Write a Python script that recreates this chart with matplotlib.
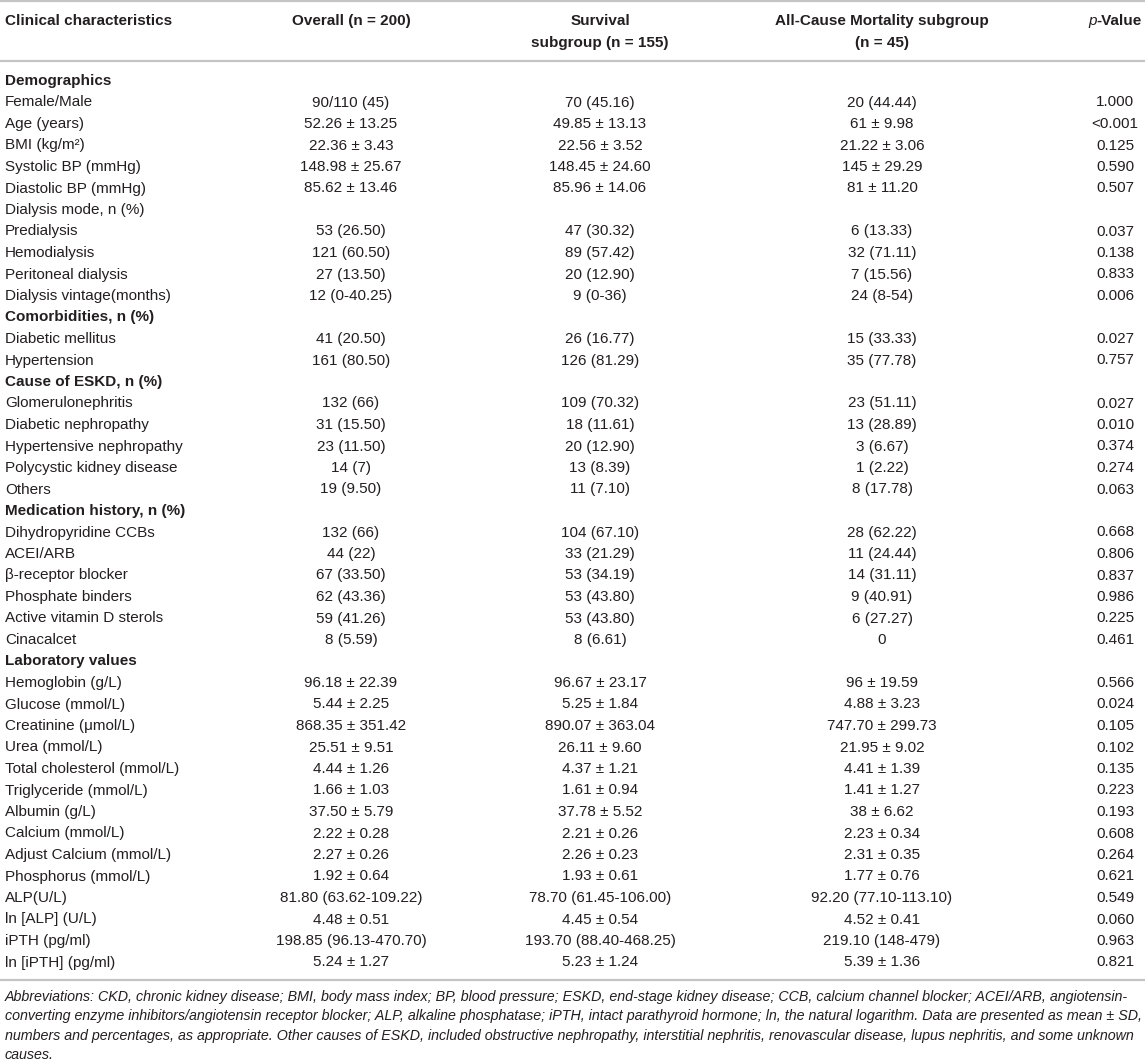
import matplotlib
matplotlib.use("Agg")
import matplotlib.pyplot as plt

plt.rcParams['font.family'] = ['Liberation Sans', 'DejaVu Sans']

# ---------------- data ----------------
header_cols = ["Clinical characteristics", "Overall (n = 200)",
               "Survival\nsubgroup (n = 155)",
               "All-Cause Mortality subgroup\n(n = 45)"]
p_header_italic = "p"
p_header_rest = "-Value"

labels = [
    "Demographics", "Female/Male", "Age (years)", "BMI (kg/m²)",
    "Systolic BP (mmHg)", "Diastolic BP (mmHg)", "Dialysis mode, n (%)",
    "Predialysis", "Hemodialysis", "Peritoneal dialysis",
    "Dialysis vintage(months)",
    "Comorbidities, n (%)", "Diabetic mellitus", "Hypertension",
    "Cause of ESKD, n (%)", "Glomerulonephritis", "Diabetic nephropathy",
    "Hypertensive nephropathy", "Polycystic kidney disease", "Others",
    "Medication history, n (%)", "Dihydropyridine CCBs", "ACEI/ARB",
    "β-receptor blocker", "Phosphate binders", "Active vitamin D sterols",
    "Cinacalcet",
    "Laboratory values", "Hemoglobin (g/L)", "Glucose (mmol/L)",
    "Creatinine (μmol/L)", "Urea (mmol/L)", "Total cholesterol (mmol/L)",
    "Triglyceride (mmol/L)", "Albumin (g/L)", "Calcium (mmol/L)",
    "Adjust Calcium (mmol/L)", "Phosphorus (mmol/L)", "ALP(U/L)",
    "ln [ALP] (U/L)", "iPTH (pg/ml)", "ln [iPTH] (pg/ml)",
]

section_rows = ["Demographics", "Comorbidities, n (%)", "Cause of ESKD, n (%)",
                "Medication history, n (%)", "Laboratory values"]

overall = [
    "", "90/110 (45)", "52.26 ± 13.25", "22.36 ± 3.43", "148.98 ± 25.67",
    "85.62 ± 13.46", "", "53 (26.50)", "121 (60.50)", "27 (13.50)",
    "12 (0-40.25)",
    "", "41 (20.50)", "161 (80.50)",
    "", "132 (66)", "31 (15.50)", "23 (11.50)", "14 (7)", "19 (9.50)",
    "", "132 (66)", "44 (22)", "67 (33.50)", "62 (43.36)", "59 (41.26)",
    "8 (5.59)",
    "", "96.18 ± 22.39", "5.44 ± 2.25", "868.35 ± 351.42", "25.51 ± 9.51",
    "4.44 ± 1.26", "1.66 ± 1.03", "37.50 ± 5.79", "2.22 ± 0.28",
    "2.27 ± 0.26", "1.92 ± 0.64", "81.80 (63.62-109.22)", "4.48 ± 0.51",
    "198.85 (96.13-470.70)", "5.24 ± 1.27",
]

survival = [
    "", "70 (45.16)", "49.85 ± 13.13", "22.56 ± 3.52", "148.45 ± 24.60",
    "85.96 ± 14.06", "", "47 (30.32)", "89 (57.42)", "20 (12.90)",
    "9 (0-36)",
    "", "26 (16.77)", "126 (81.29)",
    "", "109 (70.32)", "18 (11.61)", "20 (12.90)", "13 (8.39)", "11 (7.10)",
    "", "104 (67.10)", "33 (21.29)", "53 (34.19)", "53 (43.80)", "53 (43.80)",
    "8 (6.61)",
    "", "96.67 ± 23.17", "5.25 ± 1.84", "890.07 ± 363.04", "26.11 ± 9.60",
    "4.37 ± 1.21", "1.61 ± 0.94", "37.78 ± 5.52", "2.21 ± 0.26",
    "2.26 ± 0.23", "1.93 ± 0.61", "78.70 (61.45-106.00)", "4.45 ± 0.54",
    "193.70 (88.40-468.25)", "5.23 ± 1.24",
]

mortality = [
    "", "20 (44.44)", "61 ± 9.98", "21.22 ± 3.06", "145 ± 29.29",
    "81 ± 11.20", "", "6 (13.33)", "32 (71.11)", "7 (15.56)",
    "24 (8-54)",
    "", "15 (33.33)", "35 (77.78)",
    "", "23 (51.11)", "13 (28.89)", "3 (6.67)", "1 (2.22)", "8 (17.78)",
    "", "28 (62.22)", "11 (24.44)", "14 (31.11)", "9 (40.91)", "6 (27.27)",
    "0",
    "", "96 ± 19.59", "4.88 ± 3.23", "747.70 ± 299.73", "21.95 ± 9.02",
    "4.41 ± 1.39", "1.41 ± 1.27", "38 ± 6.62", "2.23 ± 0.34",
    "2.31 ± 0.35", "1.77 ± 0.76", "92.20 (77.10-113.10)", "4.52 ± 0.41",
    "219.10 (148-479)", "5.39 ± 1.36",
]

pvalues = [
    "", "1.000", "<0.001", "0.125", "0.590", "0.507", "", "0.037", "0.138",
    "0.833", "0.006",
    "", "0.027", "0.757",
    "", "0.027", "0.010", "0.374", "0.274", "0.063",
    "", "0.668", "0.806", "0.837", "0.986", "0.225", "0.461",
    "", "0.566", "0.024", "0.105", "0.102", "0.135", "0.223", "0.193",
    "0.608", "0.264", "0.621", "0.549", "0.060", "0.963", "0.821",
]

footnote_lines = [
    "Abbreviations: CKD, chronic kidney disease; BMI, body mass index; BP, blood pressure; ESKD, end-stage kidney disease; CCB, calcium channel blocker; ACEI/ARB, angiotensin-",
    "converting enzyme inhibitors/angiotensin receptor blocker; ALP, alkaline phosphatase; iPTH, intact parathyroid hormone; ln, the natural logarithm. Data are presented as mean ± SD,",
    "numbers and percentages, as appropriate. Other causes of ESKD, included obstructive nephropathy, interstitial nephritis, renovascular disease, lupus nephritis, and some unknown",
    "causes.",
]

# ---------------- layout ----------------
W, H = 1145, 1063
fig = plt.figure(figsize=(W / 100, H / 100), dpi=100)
ax = fig.add_axes([0, 0, 1, 1])
ax.set_xlim(0, W)
ax.set_ylim(H, 0)
ax.axis("off")

txt = "#231f20"
line_c = "#c4c4c4"
fs = 11.0
col_x = [5, 351, 600, 882]
p_x = 1115
row0, dy = 81, 21.5

# rules
for yy in (1, 61, 980):
    ax.plot([0, W], [yy, yy], color=line_c, lw=1.6, solid_capstyle="butt")

# header
ax.text(col_x[0], 21, header_cols[0], ha="left", va="center",
        fontsize=fs, fontweight="bold", color=txt)
for x, h in zip(col_x[1:], header_cols[1:]):
    for k, part in enumerate(h.split("\n")):
        ax.text(x, 21 + k * 22, part, ha="center", va="center",
                fontsize=fs, fontweight="bold", color=txt)

# p-Value header (italic p + bold -Value)
fig.canvas.draw()
r = fig.canvas.get_renderer()
t_rest = ax.text(0, 21, p_header_rest, ha="left", va="center",
                 fontsize=fs, fontweight="bold", color=txt)
t_p = ax.text(0, 21, p_header_italic, ha="left", va="center",
              fontsize=fs, fontstyle="italic", color=txt)
w_rest = t_rest.get_window_extent(r).width
w_p = t_p.get_window_extent(r).width
x0 = p_x - (w_rest + w_p) / 2
t_p.set_x(x0)
t_rest.set_x(x0 + w_p)

# body rows
for i, lab in enumerate(labels):
    y = row0 + i * dy
    bold = lab in section_rows
    ax.text(col_x[0], y, lab, ha="left", va="center", fontsize=fs,
            fontweight="bold" if bold else "normal", color=txt)
    for x, v in zip(col_x[1:], (overall[i], survival[i], mortality[i])):
        if v:
            ax.text(x, y, v, ha="center", va="center", fontsize=fs, color=txt)
    if pvalues[i]:
        ax.text(p_x, y, pvalues[i], ha="center", va="center", fontsize=fs,
                color=txt)

# footnote
for k, line in enumerate(footnote_lines):
    ax.text(5, 997 + k * 19.3, line, ha="left", va="center", fontsize=10.3,
            fontstyle="italic", color=txt)

fig.savefig("out.png", dpi=100, facecolor="white")
